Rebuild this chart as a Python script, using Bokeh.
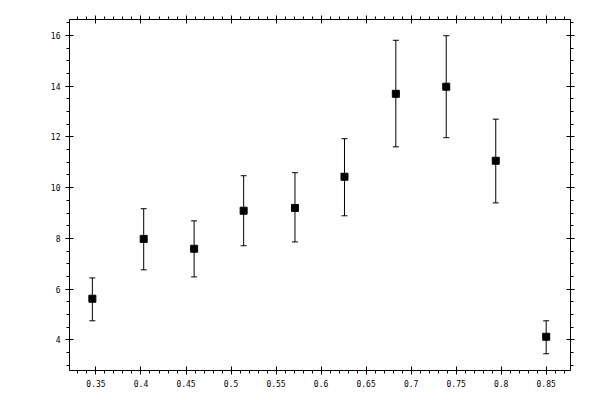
from bokeh.plotting import figure
from bokeh.models import (ColumnDataSource, Whisker, TeeHead, LinearAxis, Range1d,
                          FixedTicker, CustomJSTickFormatter)
from bokeh.embed import file_html
from bokeh.resources import INLINE

# ---- data ----
x_vals = [0.346, 0.403, 0.459, 0.514, 0.571, 0.626, 0.683, 0.739, 0.794, 0.850]
y_vals = [5.62, 7.98, 7.59, 9.09, 9.20, 10.43, 13.70, 13.98, 11.06, 4.12]
y_upper = [6.44, 9.17, 8.69, 10.47, 10.59, 11.93, 15.81, 15.99, 12.70, 4.75]
y_lower = [4.75, 6.76, 6.48, 7.71, 7.86, 8.89, 11.61, 11.97, 9.40, 3.45]

x_ticks = [0.35, 0.4, 0.45, 0.5, 0.55, 0.6, 0.65, 0.7, 0.75, 0.8, 0.85]
x_tick_labels = ["0.35", "0.4", "0.45", "0.5", "0.55", "0.6", "0.65", "0.7", "0.75", "0.8", "0.85"]
y_ticks = [4, 6, 8, 10, 12, 14, 16]
y_tick_labels = ["4", "6", "8", "10", "12", "14", "16"]

x_range = (0.3206, 0.877)
y_range = (2.79, 16.63)

x_minor = [round(0.32 + 0.01 * i, 2) for i in range(0, 57)]
y_minor = [3.0 + 0.5 * i for i in range(0, 28)]

src = ColumnDataSource(dict(x=x_vals, y=y_vals, upper=y_upper, lower=y_lower))

p = figure(frame_width=501, frame_height=351, output_backend="svg", toolbar_location=None,
           x_range=Range1d(*x_range), y_range=Range1d(*y_range),
           min_border_left=69, min_border_right=22, min_border_top=19, min_border_bottom=22,
           x_axis_location=None, y_axis_location=None)
p.xgrid.visible = False
p.ygrid.visible = False
p.outline_line_color = None
p.background_fill_color = "white"
p.border_fill_color = "white"

FONT = "DejaVu Sans Mono"

def style(ax):
    ax.axis_line_color = "black"
    ax.axis_line_width = 1
    ax.major_tick_line_color = "black"
    ax.minor_tick_line_color = "black"
    ax.major_tick_in = 4
    ax.major_tick_out = 4
    ax.minor_tick_in = 0
    ax.minor_tick_out = 3
    ax.major_label_text_font = FONT
    ax.major_label_text_font_size = "8px"
    ax.major_label_text_color = "black"
    ax.major_label_standoff = 5

xt = FixedTicker(ticks=x_ticks, minor_ticks=x_minor)
yt = FixedTicker(ticks=y_ticks, minor_ticks=y_minor)
blank = CustomJSTickFormatter(code="return '';")

bottom = LinearAxis(ticker=xt, major_label_overrides={t: l for t, l in zip(x_ticks, x_tick_labels)})
style(bottom)
left = LinearAxis(ticker=yt, major_label_overrides={t: l for t, l in zip(y_ticks, y_tick_labels)})
style(left)
top = LinearAxis(ticker=xt, formatter=blank)
style(top)
right = LinearAxis(ticker=yt, formatter=blank)
style(right)
p.add_layout(bottom, "below")
p.add_layout(left, "left")
p.add_layout(top, "above")
p.add_layout(right, "right")

w = Whisker(source=src, base="x", upper="upper", lower="lower", dimension="height",
            line_color="black", line_width=1,
            upper_head=TeeHead(size=6, line_color="black", line_width=1),
            lower_head=TeeHead(size=6, line_color="black", line_width=1))
p.add_layout(w)

p.scatter("x", "y", source=src, marker="square", size=7, fill_color="black", line_color="black",
          line_width=1)

open("out.html", "w").write(file_html(p, INLINE))
